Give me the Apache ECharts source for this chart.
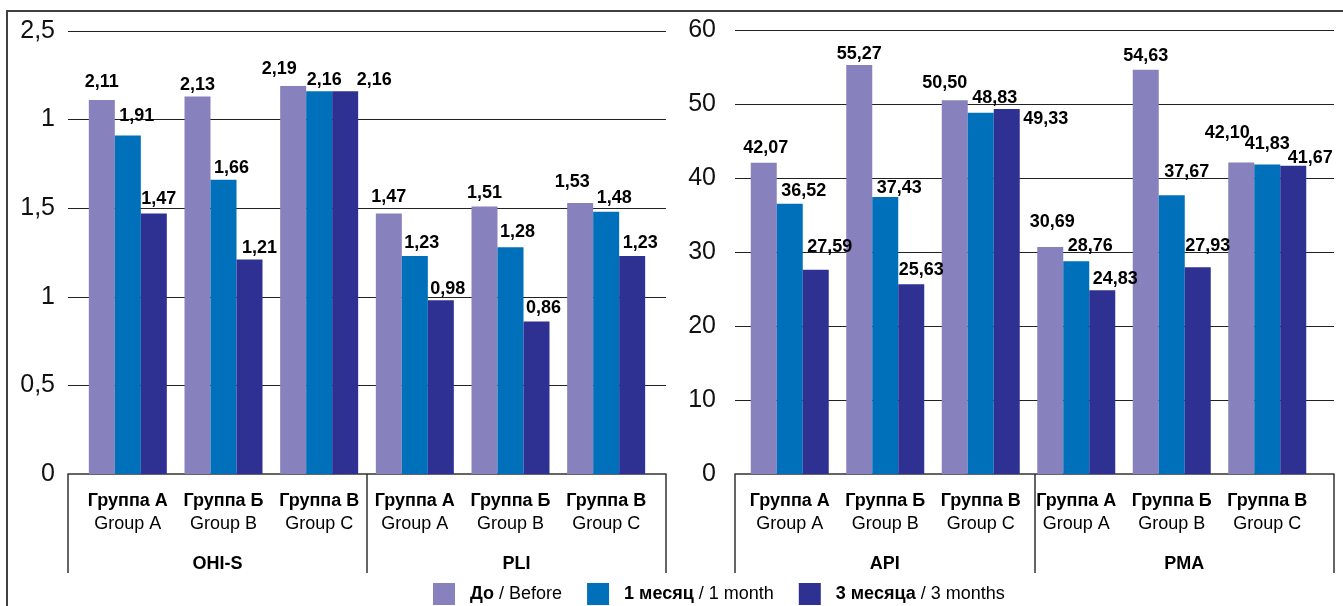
<!DOCTYPE html>
<html>
<head>
<meta charset="utf-8">
<script src="https://cdn.jsdelivr.net/npm/echarts@6/dist/echarts.min.js"></script>
<style>
  html, body { margin: 0; padding: 0; background: #fff; }
  #chart { width: 1343px; height: 606px; }
</style>
</head>
<body>
<div id="chart"></div>
<script>
// Tick labels of the two value axes (left axis text kept as printed)
const leftTicks = ['0', '0,5', '1', '1,5', '1', '2,5'];
const rightTicks = ['0', '10', '20', '30', '40', '50', '60'];

// Group names under the bars
const groupRu = ['Группа А', 'Группа Б', 'Группа В', 'Группа А', 'Группа Б', 'Группа В'];
const groupEn = ['Group A', 'Group B', 'Group C', 'Group A', 'Group B', 'Group C'];

// Index names of the two panels
const leftIndices = ['OHI-S', 'PLI'];
const rightIndices = ['API', 'PMA'];

// Time points
const seriesNames = ['До / Before', '1 месяц / 1 month', '3 месяца / 3 months'];

// OHI-S (groups A, Б, В) followed by PLI (groups A, Б, В)
const leftBefore = [2.11, 2.13, 2.19, 1.47, 1.51, 1.53];
const leftMonth1 = [1.91, 1.66, 2.16, 1.23, 1.28, 1.48];
const leftMonth3 = [1.47, 1.21, 2.16, 0.98, 0.86, 1.23];

// API (groups A, Б, В) followed by PMA (groups A, Б, В)
const rightBefore = [42.07, 55.27, 50.50, 30.69, 54.63, 42.10];
const rightMonth1 = [36.52, 37.43, 48.83, 28.76, 37.67, 41.83];
const rightMonth3 = [27.59, 25.63, 49.33, 24.83, 27.93, 41.67];

// Value label nudges [dx, dy] so neighbouring labels do not collide
const leftShiftBefore = [[0, -5], [0, 1], [-14, -4], [0, -3], [0, 0], [-8, -8]];
const leftShift1 = [[9, -7], [8, 1], [5, 2], [7, 0], [7, -2], [8, -1]];
const leftShift3 = [[5, -1], [10, 1], [29, 2], [7, 2], [7, -1], [8, 0]];
const rightShiftBefore = [[2, -2], [0, 2], [-10, -4], [2, -12], [0, -1], [-14, -16]];
const rightShift1 = [[14, 0], [14, 4], [14, -2], [14, -2], [15, -10], [0, -7]];
const rightShift3 = [[14, -10], [10, -1], [39, 23], [13, 2], [10, -8], [17, 5]];

const colors = ['#8781BD', '#0070BA', '#2E3192'];
const FONT = '"Liberation Sans", Arial, sans-serif';
const INK = '#000';
const LINE = '#333';

const fmt = v => v.toFixed(2).replace('.', ',');

function barSeries(name, values, shifts, axisIndex, color) {
  return {
    name: name,
    type: 'bar',
    xAxisIndex: axisIndex,
    yAxisIndex: axisIndex,
    barWidth: 26,
    barGap: '0%',
    itemStyle: { color: color },
    label: {
      show: true,
      position: 'top',
      distance: 4,
      fontFamily: FONT,
      fontSize: 18,
      fontWeight: 'bold',
      color: INK,
      formatter: p => fmt(p.value)
    },
    data: values.map((v, i) => ({ value: v, label: { offset: shifts[i] } }))
  };
}

const groupLabel = {
  fontFamily: FONT,
  color: INK,
  margin: 9,
  formatter: (v, i) => '{ru|' + groupRu[i] + '}\n{en|' + groupEn[i] + '}',
  rich: {
    ru: { fontFamily: FONT, fontSize: 18, fontWeight: 'bold', lineHeight: 23, color: INK },
    en: { fontFamily: FONT, fontSize: 18, lineHeight: 23, color: INK }
  }
};

function indexAxis(gridIndex, names) {
  return {
    type: 'category',
    gridIndex: gridIndex,
    data: names,
    offset: 7,
    axisLine: { show: true, lineStyle: { color: LINE, width: 1.5 } },
    axisTick: { show: true, interval: 0, length: 99, lineStyle: { color: LINE, width: 1.5 } },
    axisLabel: { margin: 74, fontFamily: FONT, fontSize: 18, fontWeight: 'bold', color: INK }
  };
}

function groupAxis(gridIndex) {
  return {
    type: 'category',
    gridIndex: gridIndex,
    data: groupRu,
    offset: 7,
    axisLine: { show: false },
    axisTick: { show: false },
    axisLabel: groupLabel
  };
}

function valueAxis(gridIndex, max, interval, ticks, margin, visible) {
  return {
    type: 'value',
    gridIndex: gridIndex,
    min: 0,
    max: max,
    interval: interval,
    show: visible,
    axisLine: { show: false },
    axisTick: { show: false },
    splitLine: { show: visible, showMinLine: false, lineStyle: { color: '#222', width: 1.2 } },
    axisLabel: {
      margin: margin,
      fontFamily: FONT,
      fontSize: 25,
      color: '#111',
      formatter: (v) => ticks[Math.round(v / interval)]
    }
  };
}

const chart = echarts.init(document.getElementById('chart'), null, { renderer: 'canvas' });

chart.setOption({
  animation: false,
  backgroundColor: '#fff',
  graphic: [{
    type: 'rect',
    z: -10,
    shape: { x: 7, y: 11, width: 1400, height: 700 },
    style: { fill: 'none', stroke: '#404040', lineWidth: 2 }
  }],
  legend: {
    left: 433,
    top: 583,
    padding: 0,
    itemWidth: 22,
    itemHeight: 22,
    itemGap: 25,
    icon: 'rect',
    data: seriesNames,
    formatter: name => {
      const parts = name.split(' / ');
      return '{b|' + parts[0] + '}{n| / ' + parts[1] + '}';
    },
    textStyle: {
      fontFamily: FONT,
      fontSize: 18,
      color: INK,
      padding: [0, 0, 0, 10],
      rich: {
        b: { fontFamily: FONT, fontSize: 18, fontWeight: 'bold', color: INK },
        n: { fontFamily: FONT, fontSize: 18, color: INK }
      }
    }
  },
  grid: [
    { left: 68, right: 1343 - 666, top: 31, bottom: 606 - 474 },
    { left: 80, right: 1343 - 654, top: 31, bottom: 606 - 474 },
    { left: 735, right: 1343 - 1334, top: 30, bottom: 606 - 474 },
    { left: 742, right: 1343 - 1315, top: 30, bottom: 606 - 474 }
  ],
  xAxis: [
    indexAxis(0, leftIndices),
    groupAxis(1),
    indexAxis(2, rightIndices),
    groupAxis(3)
  ],
  yAxis: [
    valueAxis(0, 2.5, 0.5, leftTicks, 13, true),
    valueAxis(1, 2.5, 0.5, leftTicks, 13, false),
    valueAxis(2, 60, 10, rightTicks, 19, true),
    valueAxis(3, 60, 10, rightTicks, 19, false)
  ],
  series: [
    barSeries(seriesNames[0], leftBefore, leftShiftBefore, 1, colors[0]),
    barSeries(seriesNames[1], leftMonth1, leftShift1, 1, colors[1]),
    barSeries(seriesNames[2], leftMonth3, leftShift3, 1, colors[2]),
    barSeries(seriesNames[0], rightBefore, rightShiftBefore, 3, colors[0]),
    barSeries(seriesNames[1], rightMonth1, rightShift1, 3, colors[1]),
    barSeries(seriesNames[2], rightMonth3, rightShift3, 3, colors[2])
  ]
});
</script>
</body>
</html>
